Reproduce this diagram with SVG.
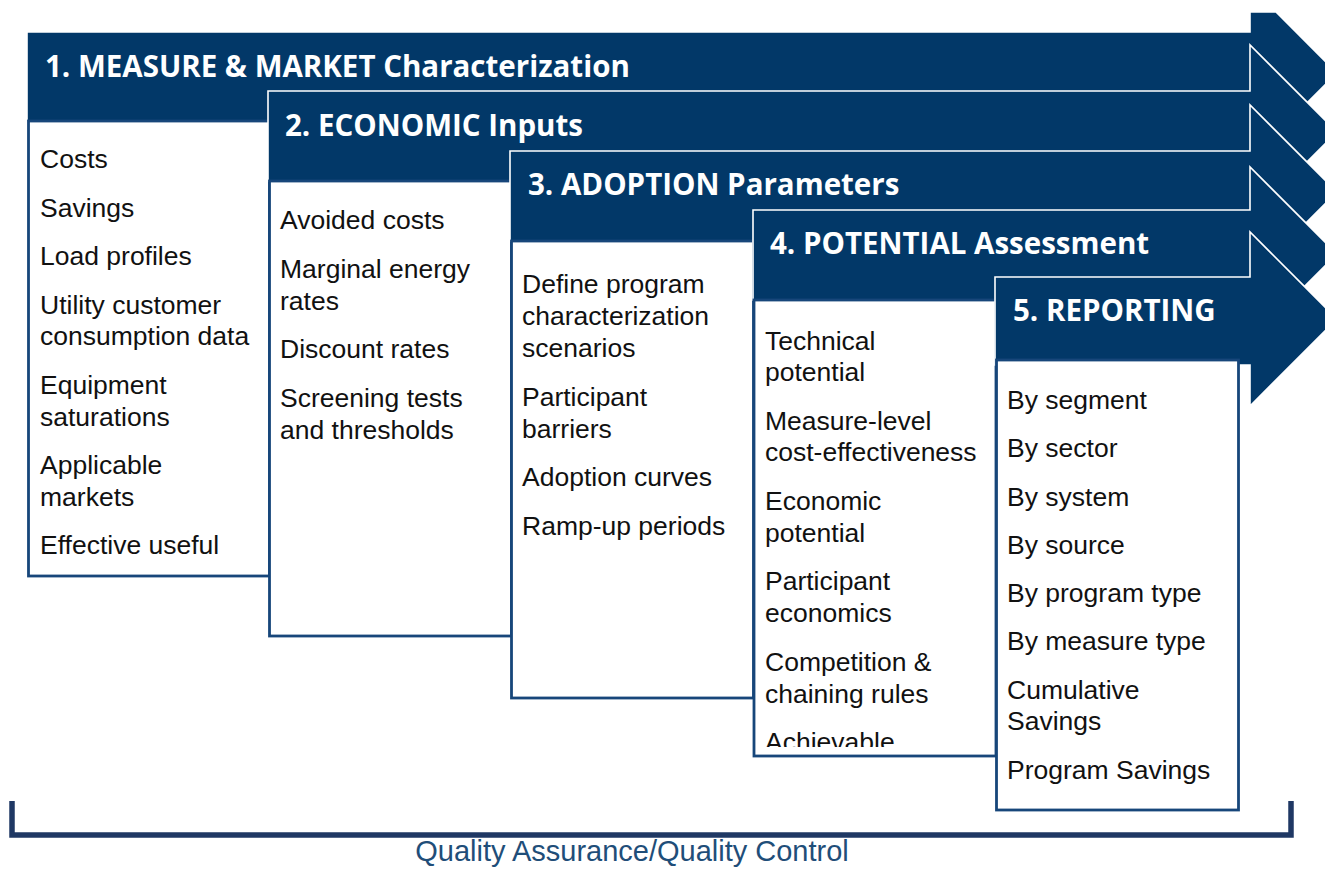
<svg xmlns="http://www.w3.org/2000/svg" width="1325" height="869" viewBox="0 0 1325 869">
<style>
.arrow{fill:#023868;stroke:#ffffff;stroke-width:1.6}
.box{fill:#ffffff;stroke:#17467a;stroke-width:2.8}
.hd{font-family:"Open Sans",sans-serif;font-weight:700;fill:#ffffff;font-size:29.5px}
.tx{font-family:"Liberation Sans",sans-serif;font-size:26.5px;fill:#111111}
.qa{font-family:"Liberation Sans",sans-serif;font-size:29px;fill:#1f4e79}
</style>
<defs>
<clipPath id="c1"><rect x="30" y="122" width="238" height="445"/></clipPath>
<clipPath id="c4"><rect x="755" y="302" width="238" height="445"/></clipPath>
</defs>
<rect width="1325" height="869" fill="#ffffff"/>
<g id="stage1">
<polygon class="arrow" points="27,32 1250,32 1250,12 1276,12 1337,73 1250,160 1250,122 27,122"/>
<rect class="box" x="28.5" y="121" width="241" height="455"/>
<text class="hd" x="45" y="77">1. MEASURE &amp; MARKET Characterization</text>
<g class="tx" clip-path="url(#c1)">
<text x="40" y="168">Costs</text>
<text x="40" y="217">Savings</text>
<text x="40" y="265">Load profiles</text>
<text x="40" y="314">Utility customer</text>
<text x="40" y="345">consumption data</text>
<text x="40" y="394">Equipment</text>
<text x="40" y="426">saturations</text>
<text x="40" y="474">Applicable</text>
<text x="40" y="506">markets</text>
<text x="40" y="554">Effective useful</text>
</g>
</g>
<g id="stage2">
<polygon class="arrow" points="268,91 1250,91 1250,45 1337,132 1250,219 1250,181 268,181"/>
<rect class="box" x="269.5" y="181" width="242" height="455"/>
<text class="hd" x="285" y="136">2. ECONOMIC Inputs</text>
<g class="tx">
<text x="280" y="229">Avoided costs</text>
<text x="280" y="278">Marginal energy</text>
<text x="280" y="310">rates</text>
<text x="280" y="358">Discount rates</text>
<text x="280" y="407">Screening tests</text>
<text x="280" y="439">and thresholds</text>
</g>
</g>
<g id="stage3">
<polygon class="arrow" points="510,151 1250,151 1250,105 1337,192 1250,279 1250,241 510,241"/>
<rect class="box" x="511.5" y="241" width="242" height="457"/>
<text class="hd" x="528" y="195">3. ADOPTION Parameters</text>
<g class="tx">
<text x="522" y="293">Define program</text>
<text x="522" y="325">characterization</text>
<text x="522" y="357">scenarios</text>
<text x="522" y="406">Participant</text>
<text x="522" y="438">barriers</text>
<text x="522" y="486">Adoption curves</text>
<text x="522" y="535">Ramp-up periods</text>
</g>
</g>
<g id="stage4">
<polygon class="arrow" points="753,210 1250,210 1250,167 1337,254 1250,341 1250,300 753,300"/>
<rect class="box" x="754" y="300" width="242" height="456"/>
<text class="hd" x="770" y="254">4. POTENTIAL Assessment</text>
<g class="tx" clip-path="url(#c4)">
<text x="765" y="350">Technical</text>
<text x="765" y="381">potential</text>
<text x="765" y="430">Measure-level</text>
<text x="765" y="461">cost-effectiveness</text>
<text x="765" y="510">Economic</text>
<text x="765" y="542">potential</text>
<text x="765" y="590">Participant</text>
<text x="765" y="622">economics</text>
<text x="765" y="671">Competition &amp;</text>
<text x="765" y="703">chaining rules</text>
<text x="765" y="751">Achievable</text>
</g>
</g>
<g id="stage5">
<polygon class="arrow" points="995,277 1250,277 1250,232 1337,319 1250,406 1250,365 995,365"/>
<rect class="box" x="996.5" y="360" width="242" height="450"/>
<text class="hd" x="1013" y="321">5. REPORTING</text>
<g class="tx">
<text x="1007" y="409">By segment</text>
<text x="1007" y="457">By sector</text>
<text x="1007" y="506">By system</text>
<text x="1007" y="554">By source</text>
<text x="1007" y="602">By program type</text>
<text x="1007" y="650">By measure type</text>
<text x="1007" y="699">Cumulative</text>
<text x="1007" y="730">Savings</text>
<text x="1007" y="779">Program Savings</text>
</g>
</g>
<g id="connectors">
<path d="M12,801 V835 H1291 V801" fill="none" stroke="#1f3864" stroke-width="5.5"/>
</g>
<g id="qaqc-label">
<text class="qa" x="632" y="861" text-anchor="middle">Quality Assurance/Quality Control</text>
</g>
</svg>
